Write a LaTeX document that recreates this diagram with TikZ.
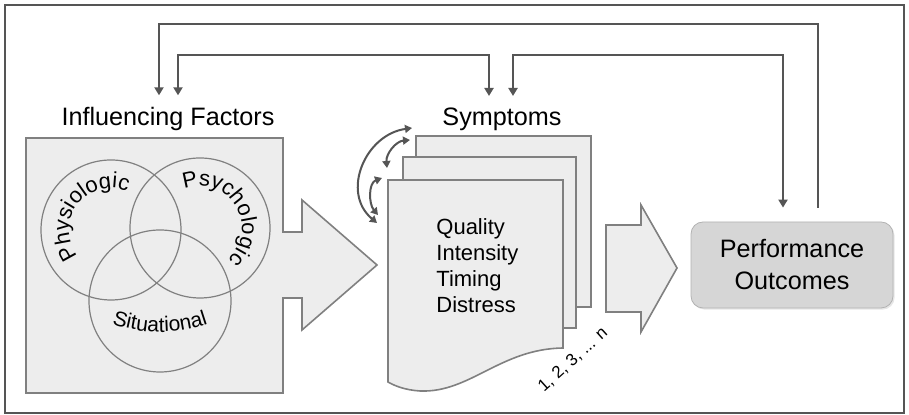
\documentclass[tikz,border=0pt]{standalone}
\usepackage{fontspec}
\setmainfont{Liberation Sans}
\usetikzlibrary{arrows.meta,
                calc,
                positioning,
                decorations.text,
                shadows}
\definecolor{lineg}{HTML}{555555}
\definecolor{edgeg}{HTML}{808080}
\definecolor{paper}{HTML}{EDEDED}
\definecolor{perfg}{HTML}{D6D6D6}
\newcommand{\venntxt}{\fontsize{11}{13}\selectfont}
\tikzset{
        head/.style={font=\fontsize{12.6}{15}\selectfont, inner sep=6pt},
        page/.style={draw=edgeg, fill=paper, line width=0.8pt, inner sep=0pt},
        venn/.style={draw=edgeg, line width=0.6pt},
        bigarrow/.style={draw=edgeg, fill=paper, line width=0.8pt},
        outc/.style={draw=black!30, fill=perfg, rounded corners=6pt,
                     minimum width=101pt, minimum height=43pt, align=center,
                     font=\fontsize{12.6}{16}\selectfont,
                     drop shadow={opacity=0.2, shadow xshift=0.8pt,
                                  shadow yshift=-0.8pt}},
        fb/.style={draw=lineg, line width=1.3pt,
                   -{Triangle[length=4pt,width=4.5pt]}},
        fbboth/.style={fb, {Triangle[length=4pt,width=4.5pt]}-{Triangle[length=4pt,width=4.5pt]}},
        loop/.style={draw=lineg, line width=1pt,
                     {Triangle[length=3.5pt,width=4pt]}-{Triangle[length=3.5pt,width=4pt]}},
 }

\begin{document}
\begin{tikzpicture}[x=0.5pt, y=0.5pt]
    \useasboundingbox (0,0) rectangle (909,415);
    \draw[lineg, line width=0.8pt] (5,2) rectangle (904,410);

    % influencing factors
    \draw[bigarrow] (26,277) -- (283,277) -- (283,183) -- (302,183)
        -- (302,215) -- (377,150) -- (302,85) -- (302,117) -- (283,117)
        -- (283,22) -- (26,22) -- cycle;
    \draw[venn] (111,185) circle (70);
    \draw[venn] (200,187) circle (70);
    \draw[venn] (160,114) circle (71);
    \path[decorate, shift={(111,185)}, decoration={text along path,
          text align=center, text={|\venntxt|Physiologic}}]
          (230:42) arc (230:56:42);
    \path[decorate, shift={(200,187)}, decoration={text along path,
          text align=center, text={|\venntxt|Psychologic}}]
          (120:42) arc (120:-56:42);
    \path[decorate, shift={(160,233)}, decoration={text along path,
          text align=center, text={|\fontsize{10.5}{12}\selectfont|Situational}}]
          (245:150) arc (245:295:150);
    \node[head, anchor=base] (iflbl) at (168,289) {Influencing Factors};

    % symptoms
    \node[head, anchor=base] (symlbl) at (502,289) {Symptoms};
    \node[page, minimum width=87.5pt, minimum height=85.5pt] (pg3) at (503.5,193.5) {};
    \node[page, minimum width=86.5pt, minimum height=85.5pt] (pg2) at (489.5,172.5) {};
    \draw[page] (388,235) -- (563,235) -- (563,67)
        .. controls (500,66) and (470,22) .. (420,24)
        .. controls (405,25) and (395,29) .. (388,33) -- cycle;
    \node[anchor=west, inner sep=0pt, align=left,
          font=\fontsize{11}{13}\selectfont] (symlist) at (436,149)
          {Quality\\Intensity\\Timing\\Distress};
    \node[rotate=42, font=\fontsize{8.5}{10}\selectfont] (count) at (573,55) {1, 2, 3, ... n};

    \coordinate (bigA) at (412,287);
    \coordinate (bigB) at (377,192);
    \coordinate (s1A) at (410,275);
    \coordinate (s1B) at (387,247);
    \coordinate (s2A) at (382,237);
    \coordinate (s2B) at (378,200);
    \draw[loop] (bigB) to[out=140, in=188, looseness=1.2] (bigA);
    \draw[loop] (s1B) to[out=95, in=185] (s1A);
    \draw[loop] (s2B) to[out=130, in=200] (s2A);

    % performance
    \draw[bigarrow] (606,190) -- (641,190) -- (641,210) -- (677,147)
        -- (641,83) -- (641,103) -- (606,103) -- cycle;
    \node[outc] (perf) at (792,150) {Performance\\Outcomes};

    % feedback
    \coordinate (railA) at (0,391);
    \coordinate (railB) at (0,360);
    \coordinate (pfA) at ([xshift=13pt, yshift=7pt]perf.north);
    \coordinate (pfC) at ([xshift=-4.5pt, yshift=7pt]perf.north);
    \coordinate (ifA) at ([xshift=-4.5pt]iflbl.north);
    \coordinate (ifB) at ([xshift=5pt]iflbl.north);
    \coordinate (symA) at ([xshift=-6.5pt]symlbl.north);
    \coordinate (symB) at ([xshift=5.5pt]symlbl.north);
    \draw[fb] (pfA) |- (railA -| ifA) -- (ifA);
    \draw[fbboth] (ifB) |- (railB -| symA) -- (symA);
    \draw[fbboth] (symB) |- (railB -| pfC) -- (pfC);
\end{tikzpicture}
\end{document}
